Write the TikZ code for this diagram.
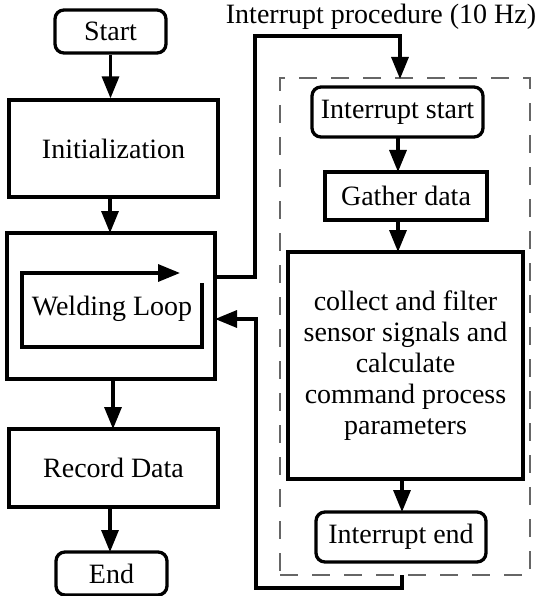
\documentclass[tikz,border=0pt]{standalone}
\usepackage{fontspec}
\setmainfont{Liberation Serif}
\usetikzlibrary{arrows.meta,calc}
\begin{document}
\begin{tikzpicture}[x=1pt,y=-1pt,
  every node/.style={font=\fontsize{28}{31}\selectfont, inner sep=0pt},
  sbox/.style={draw, line width=3.3pt},
  rbox/.style={draw, line width=3.3pt, rounded corners=9pt},
  conn/.style={line width=3.3pt, -{Triangle[length=22pt,width=17pt]}},
  dbox/.style={draw=black!60, line width=1.4pt, dash pattern=on 18pt off 14pt}]
\useasboundingbox (0,0) rectangle (541,596);
% left column
\node[rbox, minimum width=111pt, minimum height=43pt] (start) at (110.5,31.5) {Start};
\node[sbox, minimum width=209pt, minimum height=97pt] (init) at (113.5,148.5) {Initialization};
\node[sbox, minimum width=208pt, minimum height=146pt] (loop) at (111,306) {};
\node (looptxt) at (112,309) {Welding Loop};
\node[sbox, minimum width=209pt, minimum height=78pt] (record) at (113.5,468) {Record Data};
\node[rbox, minimum width=111pt, minimum height=43pt] (end) at (111.5,573.5) {End};
% inner loop symbol
\coordinate (la) at (202,283);
\coordinate (lb) at (202,347);
\coordinate (lc) at (22,347);
\coordinate (ld) at (22,273);
\coordinate (le) at (180,273);
\draw[conn] (la) -- (lb) -- (lc) -- (ld) -- (le);
% left arrows
\draw[conn] (start.south) -- (start.south |- init.north);
\draw[conn] (110,197) -- (110,233);
\draw[conn] (113,379) -- (113,429);
\draw[conn] (110,507) -- (110,552);
% right side
\node (title) at (381,17) {Interrupt procedure (10 Hz)};
\node[dbox, minimum width=250pt, minimum height=497pt] (dash) at (405,326.5) {};
\node[rbox, minimum width=171pt, minimum height=50pt] (istart) at (397.5,112) {Interrupt start};
\node[draw, line width=3.8pt, minimum width=162pt, minimum height=48pt] (gather) at (406,196) {Gather data};
\node[draw, line width=4.2pt, minimum width=235pt, minimum height=227pt, align=center] (calc) at (405.5,365.5) {collect and filter\\sensor signals and\\calculate\\command process\\parameters};
\node[rbox, minimum width=170pt, minimum height=50pt] (iend) at (401,537) {Interrupt end};
\draw[conn] (398,137) -- (398,172);
\draw[conn] (398,220) -- (398,252);
\draw[conn] (402,479) -- (402,512);
% interrupt connectors
\coordinate (lo) at (215,277);
\coordinate (itop) at (400,79);
\draw[conn] (lo) -- (255,277) -- (255,36) -- (400,36) -- (itop);
\coordinate (dbot) at (402,575);
\coordinate (lin) at (215,319);
\draw[conn] (dbot) -- (402,588) -- (256,588) -- (256,319) -- (lin);
\end{tikzpicture}
\end{document}
